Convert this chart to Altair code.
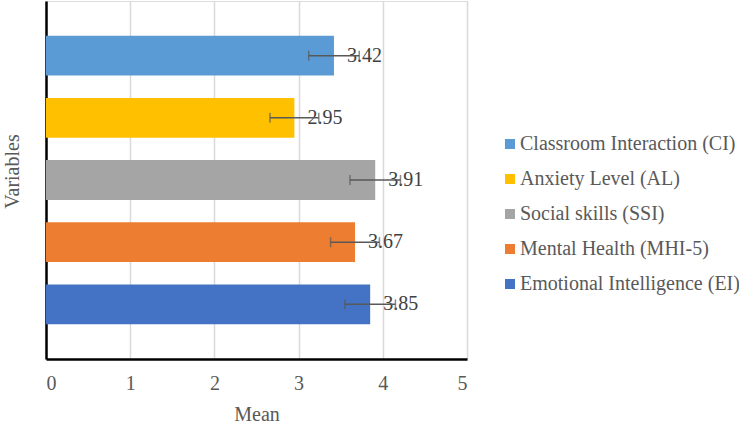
import altair as alt
import pandas as pd

# Mean score of each study variable with its error margin
variables = [
    "Classroom Interaction (CI)",
    "Anxiety Level (AL)",
    "Social skills (SSI)",
    "Mental Health (MHI-5)",
    "Emotional Intelligence (EI)",
]
means = [3.42, 2.95, 3.91, 3.67, 3.85]
errors = [0.30, 0.29, 0.30, 0.29, 0.30]
colors = ["#5B9BD5", "#FFC000", "#A5A5A5", "#ED7D31", "#4472C4"]

df = pd.DataFrame({"variable": variables, "mean": means, "err": errors})
df["lo"] = df["mean"] - df["err"]
df["hi"] = df["mean"] + df["err"]
df["label"] = df["mean"].map(lambda v: f"{v:.2f}")

FONT = "Liberation Serif"
GREY = "#595959"
FS = 20

y_enc = alt.Y(
    "variable:N",
    sort=variables,
    scale=alt.Scale(paddingInner=0.36, paddingOuter=0.56),
    axis=alt.Axis(
        labels=False, ticks=False, title="Variables", domainColor="black",
        domainWidth=2.5, titleFont=FONT, titleFontSize=FS, titleFontWeight="normal",
        titleColor=GREY, titlePadding=24, titleY=170, grid=False,
    ),
)

x_scale = alt.Scale(domain=[0, 5], nice=False)

bars = alt.Chart(df).mark_bar().encode(
    x=alt.X(
        "mean:Q",
        scale=x_scale,
        axis=alt.Axis(
            values=[0, 1, 2, 3, 4, 5], format="d", ticks=False, grid=True,
            gridColor="#D9D9D9", gridWidth=1.5, domainColor="black", domainWidth=2.5,
            labelFont=FONT, labelFontSize=FS, labelColor=GREY, labelPadding=14,
            title="Mean", titleFont=FONT, titleFontSize=FS, titleFontWeight="normal",
            titleColor=GREY, titlePadding=11,
        ),
    ),
    y=y_enc,
    color=alt.Color(
        "variable:N",
        scale=alt.Scale(domain=variables, range=colors),
        legend=alt.Legend(
            title=None, orient="none", legendX=454, legendY=133,
            symbolType="square", symbolSize=100, symbolStrokeWidth=0,
            labelFont=FONT, labelFontSize=FS, labelColor=GREY, labelLimit=300,
            rowPadding=15, padding=0, labelOffset=0,
        ),
    ),
)

labels = alt.Chart(df).mark_text(
    align="left", baseline="middle", dx=13, font=FONT, fontSize=FS, color="#404040"
).encode(x=alt.X("mean:Q", scale=x_scale), y=alt.Y("variable:N", sort=variables), text="label:N")

whisker = alt.Chart(df).mark_rule(color=GREY, strokeWidth=1.5).encode(
    x=alt.X("lo:Q", scale=x_scale), x2="hi:Q", y=alt.Y("variable:N", sort=variables)
)
caps_lo = alt.Chart(df).mark_tick(color=GREY, size=10, thickness=1.5).encode(
    x=alt.X("lo:Q", scale=x_scale), y=alt.Y("variable:N", sort=variables)
)
caps_hi = alt.Chart(df).mark_tick(color=GREY, size=10, thickness=1.5).encode(
    x=alt.X("hi:Q", scale=x_scale), y=alt.Y("variable:N", sort=variables)
)

chart = (
    alt.layer(bars, labels, whisker, caps_lo, caps_hi)
    .properties(
        width=421, height=358,
        autosize=alt.AutoSizeParams(type="none"),
        padding={"left": 46, "top": 1, "right": 272, "bottom": 68},
    )
    .configure_view(stroke=None)
    .configure(background="white")
)

chart.save("out.html", embed_options={"renderer": "svg", "actions": False})
